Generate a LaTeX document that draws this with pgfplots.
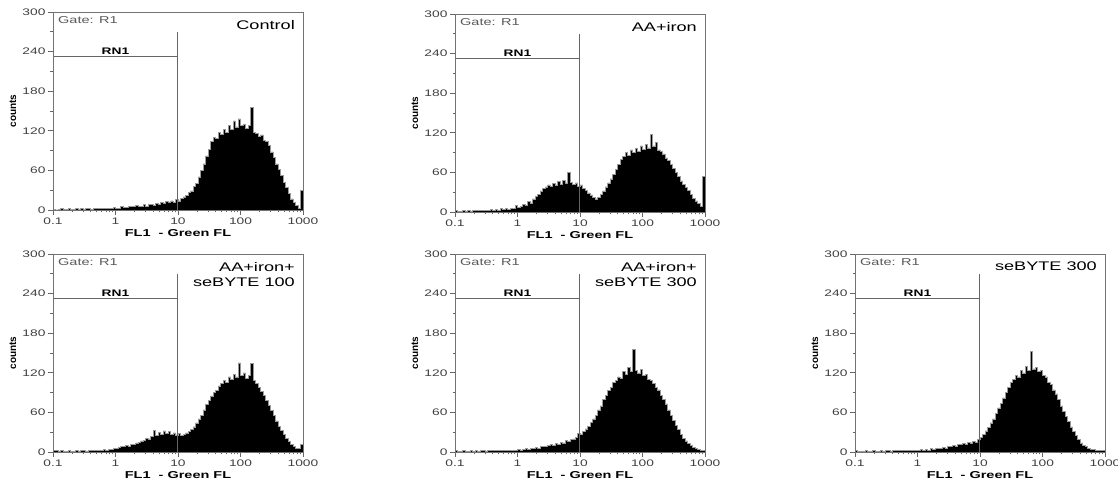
\documentclass[border=0pt]{standalone}
\usepackage{fontspec}
\setmainfont{Liberation Sans}[FakeStretch=1.45]
\newfontfamily\plainfont{Liberation Sans}
\usepackage{pgfplots}
\pgfplotsset{compat=1.18}
\usepackage{pgfplotstable}

% x = log10(FL1), columns a..e = counts per channel for the five samples
\pgfplotstableread{
x a b c d e
-1.00 0 2 2 1 1
-0.96 1 2 3 2 2
-0.92 0 1 2 1 1
-0.88 1 1 1 1 1
-0.84 2 2 2 2 1
-0.80 1 1 1 1 2
-0.76 1 2 1 1 1
-0.72 2 1 2 2 1
-0.68 1 2 1 1 2
-0.64 1 3 1 2 1
-0.60 2 2 2 1 1
-0.56 1 3 1 2 2
-0.52 2 2 2 2 1
-0.48 1 3 2 1 2
-0.44 2 3 1 2 2
-0.40 3 4 2 2 1
-0.36 1 3 3 3 2
-0.32 2 4 2 2 3
-0.28 3 3 3 2 2
-0.24 2 5 2 3 2
-0.20 2 4 3 2 3
-0.16 3 5 4 3 2
-0.12 2 4 3 3 3
-0.08 3 6 4 2 2
-0.04 2 5 4 3 3
0.00 4 10 5 3 3
0.04 3 7 6 4 2
0.08 3 8 7 3 4
0.12 5 11 8 4 3
0.16 4 10 8 5 4
0.20 4 16 10 4 3
0.24 6 14 9 6 5
0.28 5 20 12 5 4
0.32 5 24 11 7 5
0.36 7 27 14 6 6
0.40 6 32 15 8 5
0.44 6 36 17 9 7
0.48 8 38 18 8 6
0.52 6 41 21 10 9
0.56 8 39 20 11 8
0.60 9 43 24 10 10
0.64 7 41 33 13 9
0.68 10 46 25 12 12
0.72 9 42 30 15 11
0.76 12 48 27 14 13
0.80 10 44 32 18 12
0.84 13 60 28 16 15
0.88 11 45 31 19 14
0.92 14 42 27 20 16
0.96 12 44 29 22 15
1.00 16 39 26 28 19
1.04 14 41 28 27 22
1.08 18 36 25 31 27
1.12 20 33 27 35 32
1.16 22 29 29 39 37
1.20 27 26 31 45 44
1.24 29 22 34 50 50
1.28 36 20 38 56 58
1.32 40 22 44 64 67
1.36 50 27 50 70 74
1.40 60 32 56 80 82
1.44 70 38 64 86 90
1.48 82 44 72 93 98
1.52 92 50 78 98 106
1.56 104 57 85 105 110
1.60 110 65 90 108 116
1.64 108 72 93 114 114
1.68 118 80 100 112 124
1.72 115 84 104 122 120
1.76 122 90 108 118 130
1.80 118 86 106 128 124
1.84 128 94 114 122 152
1.88 122 90 110 155 126
1.92 135 96 118 124 128
1.96 126 92 114 120 122
2.00 138 100 135 125 124
2.04 128 95 116 116 116
2.08 130 102 120 118 114
2.12 124 97 112 110 106
2.16 128 118 116 108 102
2.20 155 100 134 104 94
2.24 118 105 108 98 88
2.28 116 94 104 94 80
2.32 112 92 98 86 70
2.36 114 88 92 80 62
2.40 106 82 86 73 54
2.44 104 78 78 64 46
2.48 98 72 71 56 38
2.52 88 66 63 48 31
2.56 80 60 55 40 25
2.60 70 54 47 34 19
2.64 62 47 39 27 14
2.68 52 42 33 21 10
2.72 42 37 27 17 8
2.76 34 33 21 13 6
2.80 25 27 16 10 4
2.84 17 21 12 7 4
2.88 11 17 9 5 3
2.92 7 13 6 4 2
2.96 3 8 5 3 2
3.00 30 54 12 2 2
}\flowdata

\pgfplotsset{
  flow/.style={
    anchor=south west, scale only axis, width=250pt, height=198pt,
    xmin=-1, xmax=3, ymin=0, ymax=300, clip=false,
    xtick={-1,0,1,2,3}, xticklabels={0.1,1,10,100,1000},
    minor xtick={-0.699,-0.523,-0.398,-0.301,-0.222,-0.155,-0.097,-0.046,
                 0.301,0.477,0.602,0.699,0.778,0.845,0.903,0.954,
                 1.301,1.477,1.602,1.699,1.778,1.845,1.903,1.954,
                 2.301,2.477,2.602,2.699,2.778,2.845,2.903,2.954},
    ytick={0,60,120,180,240,300}, yticklabels={0,60,120,180,240,300},
    minor ytick={30,90,150,210,270},
    tick pos=left, tick align=outside,
    major tick length=5pt, minor tick length=2.5pt,
    axis line style={black!55, line width=0.8pt},
    every tick/.style={black!60, line width=0.6pt},
    tick label style={font=\fontsize{9.5}{11}\selectfont, text=black!75},
    yticklabel style={xshift=1pt},
    xticklabel style={yshift=1pt},
    axis on top,
  },
  hist/.style={const plot mark right, fill=black, draw=black!40, line width=0.5pt},
  gate/.style={black!60, line width=0.8pt},
}

\newcommand\flowpanel[3]{%
\begin{axis}[flow, at={#1}]
\addplot[hist] table[x=x, y=#2] {\flowdata} \closedcycle;
\addplot[gate] coordinates {(-1,233) (0.99,233)};
\addplot[gate] coordinates {(0.99,0) (0.99,270)};
\node[anchor=north west, inner sep=0pt, xshift=5pt, yshift=-4pt, text=black!65,
      font=\fontsize{10}{12}\selectfont] at (rel axis cs:0,1) {Gate: R1};
\node[anchor=south, inner sep=0pt, yshift=1.5pt,
      font=\bfseries\fontsize{9.5}{11}\selectfont] at (axis cs:0,233) {RN1};
\node[anchor=north east, inner sep=0pt, xshift=-8pt, yshift=-8pt, align=right,
      font=\fontsize{12.5}{15}\selectfont] at (rel axis cs:1,1) {#3};
\node[rotate=90, inner sep=0pt, yshift=40pt,
      font=\plainfont\bfseries\fontsize{10}{12}\selectfont] at (rel axis cs:0,0.5) {counts};
\node[inner sep=0pt, yshift=-23pt,
      font=\bfseries\fontsize{10}{12}\selectfont] at (rel axis cs:0.5,0) {FL1\ \ - Green FL};
\end{axis}}

\begin{document}
\begin{tikzpicture}
\useasboundingbox (0,0) rectangle (1118pt,481pt);
\flowpanel{(53pt,271pt)}{a}{Control}
\flowpanel{(455pt,269pt)}{b}{AA+iron}
\flowpanel{(53pt,29pt)}{c}{AA+iron+\\seBYTE 100}
\flowpanel{(455pt,29pt)}{d}{AA+iron+\\seBYTE 300}
\flowpanel{(855pt,29pt)}{e}{seBYTE 300}
\end{tikzpicture}
\end{document}
